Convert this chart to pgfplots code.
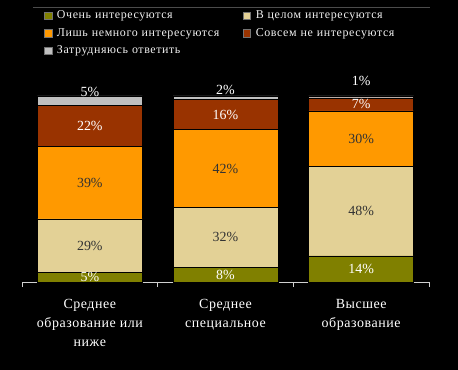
\documentclass[border=0pt]{standalone}
\usepackage{fontspec}
\setmainfont{Liberation Serif}
\newfontfamily\lgfont[LetterSpace=5]{Liberation Serif}
\newfontfamily\catfont[LetterSpace=4]{Liberation Serif}
\usepackage{pgfplots}
\pgfplotsset{compat=1.18}
\definecolor{colA}{HTML}{808000}
\definecolor{colB}{HTML}{E3D196}
\definecolor{colC}{HTML}{FF9900}
\definecolor{colD}{HTML}{993300}
\definecolor{colE}{HTML}{C0C0C0}
\definecolor{lbl}{HTML}{333333}
\definecolor{axgray}{HTML}{D0D0D0}
\begin{document}
\begin{tikzpicture}
\useasboundingbox (0,0) rectangle (458bp,370bp);
\fill[black] (0,0) rectangle (458bp,370bp);
\begin{axis}[
  at={(22bp,88bp)}, anchor=south west,
  scale only axis, width=407bp, height=186bp,
  xmin=-0.5, xmax=2.5, ymin=0, ymax=100,
  ybar stacked, bar width=105bp,
  axis x line=bottom, axis y line=none, ytick=\empty,
  axis line style={-, draw=axgray, line width=0.8bp},
  xtick={0,1,2},
  xticklabels={{Среднее\\образование или\\ниже},{Среднее\\специальное},{Высшее\\образование}},
  xticklabel style={align=center, font=\catfont\fontsize{14}{19}\selectfont, text=white, yshift=-14bp},
  major tick length=0pt,
  extra x ticks={-0.5,0.5,1.5,2.5},
  extra x tick labels={},
  extra x tick style={major tick length=5bp, tick align=outside, tick style={draw=axgray, line width=0.8bp}},
  clip=false,
  legend columns=2,
  legend cell align=left,
  legend style={at={(axis description cs:0.0545,1.478)}, anchor=north west, draw=none, fill=none,
    inner sep=0pt, outer sep=0pt, row sep=0pt, column sep=0pt,
    font=\lgfont\fontsize{12}{14}\selectfont, text=white!88!gray,
    nodes={text width=181bp, align=left, inner xsep=5bp, inner ysep=2.75bp, text height=9bp, text depth=3bp}},
  legend image code/.code={\draw[#1, draw=white!45!black, line width=0.3bp] (0bp,-3.5bp) rectangle (7.5bp,4bp);},
]
\addplot[fill=colA, draw=black, line width=0.5bp] coordinates {(0,5) (1,8) (2,14)};
\addlegendentry{Очень интересуются}
\addplot[fill=colB, draw=black, line width=0.5bp] coordinates {(0,29) (1,32) (2,48)};
\addlegendentry{В целом интересуются}
\addplot[fill=colC, draw=black, line width=0.5bp] coordinates {(0,39) (1,42) (2,30)};
\addlegendentry{Лишь немного интересуются}
\addplot[fill=colD, draw=black, line width=0.5bp] coordinates {(0,22) (1,16) (2,7)};
\addlegendentry{Совсем не интересуются}
\addplot[fill=colE, draw=black, line width=0.5bp] coordinates {(0,5) (1,2) (2,1)};
\addlegendentry{Затрудняюсь ответить}
\draw[draw=black!70!white, line width=0.8bp] (axis cs:-0.42,147.8) -- (axis cs:2.507,147.8);
\end{axis}
\begin{axis}[
  at={(22bp,88bp)}, anchor=south west,
  scale only axis, width=407bp, height=186bp,
  xmin=-0.5, xmax=2.5, ymin=0, ymax=100,
  hide axis, clip=false,
  nodes near coords, point meta=explicit symbolic,
  every node near coord/.append style={anchor=center, font=\fontsize{14}{16}\selectfont},
]
\addplot[draw=none, mark=none, every node near coord/.append style={text=white}]
  coordinates {(0,2.5)[5\%] (1,4)[8\%] (2,7)[14\%] (0,84)[22\%] (1,90)[16\%] (2,95.5)[7\%]
               (0,102.3)[5\%] (1,103.2)[2\%] (2,108)[1\%]};
\addplot[draw=none, mark=none, every node near coord/.append style={text=lbl}]
  coordinates {(0,19.5)[29\%] (1,24)[32\%] (2,38)[48\%] (0,53.5)[39\%] (1,61)[42\%] (2,77)[30\%]};
\end{axis}
\end{tikzpicture}
\end{document}
